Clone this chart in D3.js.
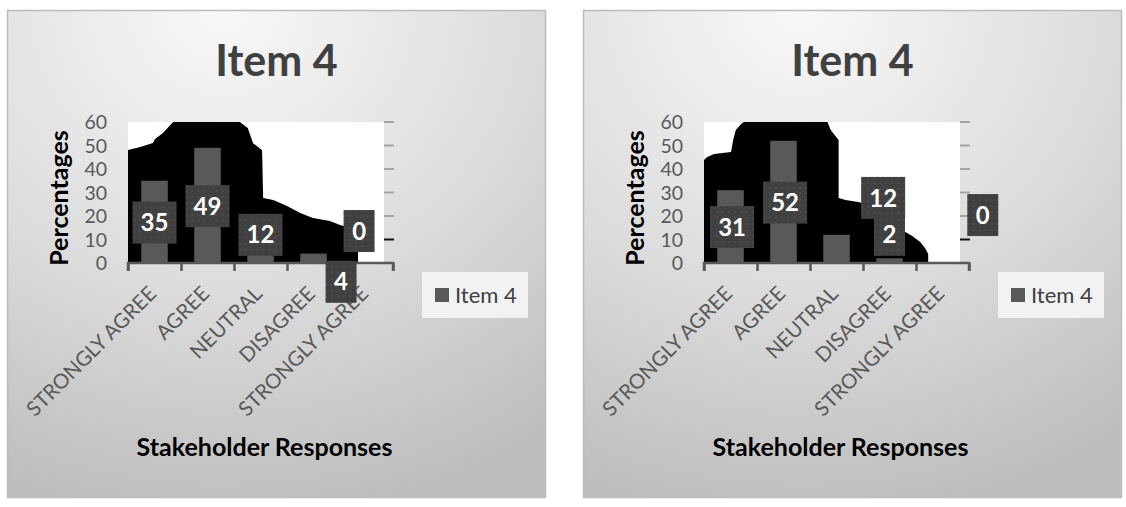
<!DOCTYPE html>
<html>
<head>
<meta charset="utf-8">
<script src="https://cdn.jsdelivr.net/npm/d3@7"></script>
<style>
  body { margin: 0; background: #fff; }
  svg { display: block; font-family: Lato, "Open Sans", sans-serif; }
</style>
</head>
<body>
<svg id="chart"></svg>
<script>
// Data
const categories = ["STRONGLY AGREE", "AGREE", "NEUTRAL", "DISAGREE", "STRONGLY AGREE"];
const yTicks = [0, 10, 20, 30, 40, 50, 60];
const seriesName = "Item 4";

const valuesLeft = [35, 49, 12, 4, 0];
const valuesRight = [31, 52, 12, 2, 0];

// where each data label box ended up (shift in bands, level in %)
const labelShiftLeft = [0, 0, 0, 0.52, -0.14];
const labelLevelLeft = [17.2, 24.2, 12, -8, 13.6];
const labelShiftRight = [0.03, 0.03, 0.88, 0, 0.76];
const labelLevelRight = [15.3, 25.7, 27.7, 12, 20.4];

// black render artefact behind the bars: [position in bands, level in %]
const blobLeft = [[0, 48.1], [0.23, 49.4], [0.47, 51.1], [0.51, 52.8], [0.66, 55.3], [0.85, 60],
  [2.11, 60], [2.26, 57.4], [2.36, 51], [2.53, 48], [2.55, 27.7], [2.74, 26.8], [3.0, 24.3],
  [3.25, 21.3], [3.49, 19.1], [3.81, 17.9], [4.0, 16.2], [4.34, 14.0], [4.34, 0]];
const blobRight = [[0, 43.8], [0.06, 45.1], [0.19, 46.4], [0.51, 47.2], [0.55, 52.3], [0.6, 56.6],
  [0.7, 59.1], [0.75, 60], [2.33, 60], [2.39, 56.6], [2.54, 52.3], [2.54, 27.7], [2.67, 26.8],
  [2.91, 26], [3.14, 24.7], [3.61, 14.9], [3.8, 13.2], [3.93, 11.5], [4.08, 8.9], [4.17, 6.4],
  [4.23, 3.8], [4.23, 0]];

// Size
const width = 1126;
const height = 507;
const panelW = 538;
const panelH = 487;

const svg = d3.select("#chart")
    .attr("width", width)
    .attr("height", height);

const defs = svg.append("defs");

const grad = defs.append("radialGradient")
    .attr("id", "bg")
    .attr("cx", "40%").attr("cy", "0%")
    .attr("r", "105%")
    .attr("gradientUnits", "objectBoundingBox");
grad.append("stop").attr("offset", "0%").attr("stop-color", "#f8f8f8");
grad.append("stop").attr("offset", "55%").attr("stop-color", "#dcdcdc");
grad.append("stop").attr("offset", "100%").attr("stop-color", "#bdbdbd");

const pat = defs.append("pattern")
    .attr("id", "dots")
    .attr("width", 6).attr("height", 6)
    .attr("patternUnits", "userSpaceOnUse");
pat.append("rect").attr("width", 6).attr("height", 6).attr("fill", "#404040");
pat.append("circle").attr("cx", 3).attr("cy", 3).attr("r", 1.1).attr("fill", "#4e4e4e");

function drawPanel(px, values, blob, shifts, levels) {
    const g = svg.append("g").attr("transform", `translate(${px},10)`);

    g.append("rect")
        .attr("x", 0.5).attr("y", 0.5)
        .attr("width", panelW).attr("height", panelH)
        .attr("fill", "url(#bg)")
        .attr("stroke", "#bcbcbc")
        .attr("stroke-width", 1.5);

    const idx = d3.range(categories.length);
    const x = d3.scaleBand()
        .domain(idx)
        .range([121, 386])
        .paddingInner(0.5)
        .paddingOuter(0.25);
    const xu = d3.scaleLinear().domain([0, categories.length]).range([121, 386]);
    const y = d3.scaleLinear().domain([0, 60]).range([253, 112]);

    // plot area
    g.append("rect")
        .attr("x", xu(0)).attr("y", y(60))
        .attr("width", 256).attr("height", y(0) - y(60))
        .attr("fill", "#fff");

    // black blob
    const area = d3.area()
        .x(d => xu(d[0]))
        .y0(y(0))
        .y1(d => y(d[1]));
    g.append("path")
        .datum(blob)
        .attr("d", area)
        .attr("fill", "#000");

    // right side ticks
    g.append("g")
        .selectAll("line")
        .data(yTicks.filter(t => t > 0))
        .enter()
        .append("line")
        .attr("x1", xu(0) + 256).attr("x2", xu(5) + 1)
        .attr("y1", d => y(d)).attr("y2", d => y(d))
        .attr("stroke", d => d === 10 ? "#111" : "#a6a6a6")
        .attr("stroke-width", 2);

    // bars
    g.selectAll(".bar")
        .data(values)
        .enter()
        .append("rect")
        .attr("x", (d, i) => x(i))
        .attr("y", d => y(d))
        .attr("width", x.bandwidth())
        .attr("height", d => y(0) - y(d))
        .attr("fill", "#595959");

    // x axis
    const xAxis = g.append("g")
        .attr("transform", `translate(0,${y(0)})`)
        .call(d3.axisBottom(xu).tickValues(d3.range(0, 6)).tickSize(8).tickFormat(""));
    xAxis.select(".domain").attr("stroke", "#595959").attr("stroke-width", 2.5)
        .attr("d", `M${xu(0)},8V0H${xu(5)}V8`);
    xAxis.selectAll(".tick line").attr("stroke", "#595959").attr("stroke-width", 2.5);

    g.selectAll(".xlab")
        .data(categories)
        .enter()
        .append("text")
        .attr("transform", (d, i) => `translate(${x(i) + x.bandwidth() / 2 + 3},${y(0) + 32}) rotate(-45)`)
        .attr("text-anchor", "end")
        .attr("font-size", 20.5)
        .attr("fill", "#595959")
        .text(d => d);

    // y labels
    g.selectAll(".ylab")
        .data(yTicks)
        .enter()
        .append("text")
        .attr("x", 100)
        .attr("y", d => y(d))
        .attr("dy", "0.36em")
        .attr("text-anchor", "end")
        .attr("font-size", 19.5)
        .attr("fill", "#595959")
        .text(d => d);

    // data labels
    const lab = g.selectAll(".dlab")
        .data(values)
        .enter()
        .append("g")
        .attr("transform", (d, i) => `translate(${xu(i + 0.5 + shifts[i])},${y(levels[i])})`);
    lab.append("rect")
        .attr("x", d => -(18 + 13 * String(d).length) / 2)
        .attr("y", -21)
        .attr("width", d => 18 + 13 * String(d).length)
        .attr("height", 42)
        .attr("fill", "url(#dots)");
    lab.append("text")
        .attr("text-anchor", "middle")
        .attr("dy", "0.36em")
        .attr("font-size", 24)
        .attr("font-weight", "bold")
        .attr("fill", "#fff")
        .text(d => d);

    // titles
    g.append("text")
        .attr("x", 269.5).attr("y", 66)
        .attr("text-anchor", "middle")
        .attr("font-size", 43)
        .attr("font-weight", "bold")
        .attr("fill", "#404040")
        .text(seriesName);

    g.append("text")
        .attr("transform", "translate(52,188) rotate(-90)")
        .attr("text-anchor", "middle")
        .attr("dy", "0.36em")
        .attr("font-size", 25)
        .attr("font-weight", "bold")
        .attr("fill", "#000")
        .text("Percentages");

    g.append("text")
        .attr("x", 257.5).attr("y", 446)
        .attr("text-anchor", "middle")
        .attr("font-size", 25)
        .attr("font-weight", "bold")
        .attr("fill", "#000")
        .text("Stakeholder Responses");

    // Legend
    const legend = g.append("g").attr("transform", "translate(415,262)");
    legend.append("rect").attr("width", 106).attr("height", 46).attr("fill", "#f2f2f2");
    legend.append("rect").attr("x", 13).attr("y", 16).attr("width", 14).attr("height", 14).attr("fill", "#595959");
    legend.append("text").attr("x", 33).attr("y", 31)
        .attr("font-size", 22).attr("fill", "#404040").text(seriesName);
}

drawPanel(7, valuesLeft, blobLeft, labelShiftLeft, labelLevelLeft);
drawPanel(583, valuesRight, blobRight, labelShiftRight, labelLevelRight);
</script>
</body>
</html>
